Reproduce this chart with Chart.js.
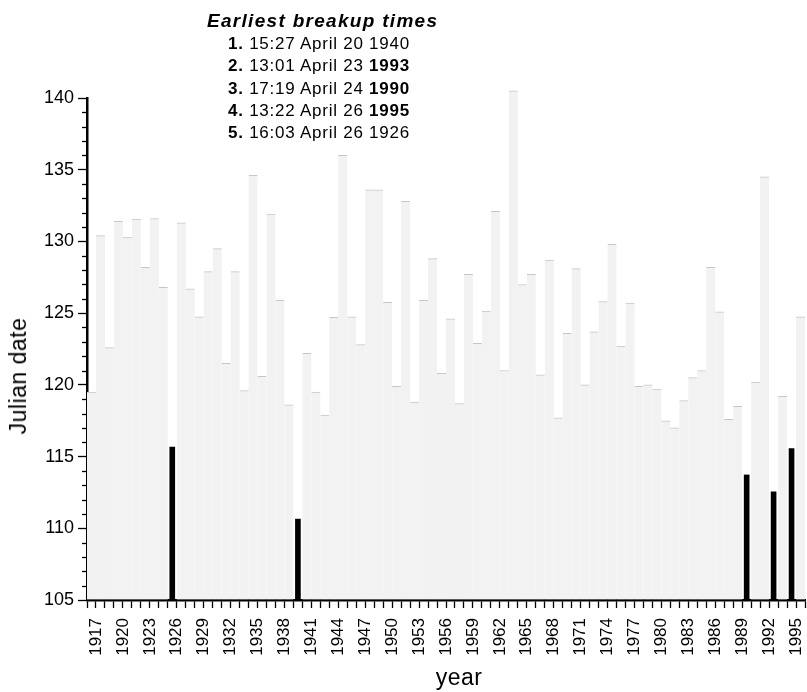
<!DOCTYPE html>
<html><head><meta charset="utf-8">
<script src="https://cdn.jsdelivr.net/npm/chart.js@4.4.1/dist/chart.umd.min.js"></script>
<style>
html,body{margin:0;padding:0;background:#fff;overflow:hidden}
#wrap{position:relative;width:807px;height:692px;font-family:"Liberation Sans",Arial,Helvetica,sans-serif;color:#000}
canvas{position:absolute;left:0;top:0}
.txt{position:absolute;white-space:nowrap}
#title{left:207px;top:10px;font-weight:bold;font-style:italic;font-size:19px;line-height:22px;letter-spacing:1.3px}
.line{left:228px;font-size:17px;line-height:22px;letter-spacing:0.75px}
#ytitle{left:18px;top:376px;font-size:23px;line-height:26px;letter-spacing:0.5px;transform:translate(-50%,-50%) rotate(-90deg)}
#xtitle{left:459px;top:677px;font-size:23px;line-height:26px;letter-spacing:0.5px;transform:translate(-50%,-50%)}
</style></head><body>
<div id="wrap"><canvas id="c" width="807" height="692"></canvas></div>
<script>
// ---- data ----
const years = [1917,1918,1919,1920,1921,1922,1923,1924,1925,1926,1927,1928,1929,1930,1931,1932,1933,1934,1935,1936,
  1937,1938,1939,1940,1941,1942,1943,1944,1945,1946,1947,1948,1949,1950,1951,1952,1953,1954,1955,1956,
  1957,1958,1959,1960,1961,1962,1963,1964,1965,1966,1967,1968,1969,1970,1971,1972,1973,1974,1975,1976,
  1977,1978,1979,1980,1981,1982,1983,1984,1985,1986,1987,1988,1989,1990,1991,1992,1993,1994,1995,1996];
const julianDate = [119.5,130.4,122.6,131.4,130.3,131.55,128.2,131.6,126.8,115.67,131.3,126.7,124.75,127.9,129.5,121.5,127.9,119.6,134.6,120.6,
  131.9,125.9,118.6,110.64,122.2,119.5,117.9,124.7,136.0,124.75,122.8,133.6,133.6,125.75,119.9,132.8,118.8,125.9,128.8,120.8,
  124.6,118.7,127.7,122.9,125.15,132.1,121.0,140.5,127.0,127.7,120.7,128.7,117.7,123.6,128.1,120.0,123.7,125.8,129.8,122.7,
  125.7,119.9,120.0,119.7,117.5,117.0,118.9,120.5,121.0,128.2,125.1,117.6,118.5,113.72,120.2,134.5,112.54,119.2,115.56,124.75];
const xTickLabels = [1917,1920,1923,1926,1929,1932,1935,1938,1941,1944,1947,1950,1953,1956,1959,1962,1965,1968,1971,1974,1977,1980,1983,1986,1989,1992,1995];
const yTicks = [105,110,115,120,125,130,135,140];
const earliestYears = [1940,1993,1990,1995,1926];
const earliestTimes = ['15:27','13:01','17:19','13:22','16:03'];
const earliestDays = ['April 20','April 23','April 24','April 26','April 26'];
const boldYears = [1993,1990,1995];
const noteTitle = 'Earliest breakup times';
const xAxisTitle = 'year';
const yAxisTitle = 'Julian date';

// ---- text ----
const wrap = document.getElementById('wrap');
function addText(id, cls, html, top){
  const d = document.createElement('div');
  if (id) d.id = id;
  d.className = 'txt ' + (cls||'');
  d.innerHTML = html;
  if (top !== undefined) d.style.top = top + 'px';
  wrap.appendChild(d);
}
addText('title', '', noteTitle);
earliestYears.forEach((y,i)=>{
  const ys = boldYears.includes(y) ? '<b>'+y+'</b>' : String(y);
  addText(null, 'line', '<b>'+(i+1)+'.</b> '+earliestTimes[i]+' '+earliestDays[i]+' '+ys, 33 + i*22.3);
});
addText('ytitle', '', yAxisTitle);
addText('xtitle', '', xAxisTitle);

const FONT = "'Liberation Sans', Arial, Helvetica, sans-serif";
const greyData = julianDate.map((v,i)=> earliestYears.includes(years[i]) ? null : v);
const blackData = julianDate.map((v,i)=> earliestYears.includes(years[i]) ? v : null);

const minorTicks = {
  id:'minorTicks',
  afterDraw(chart){
    const ys = chart.scales.y, ctx = chart.ctx, left = chart.chartArea.left;
    ctx.save(); ctx.strokeStyle='#000'; ctx.lineWidth=1.3;
    for (let v = ys.min; v <= ys.max; v++) {
      if (yTicks.includes(v)) continue;
      const p = Math.round(ys.getPixelForValue(v)) + 0.5;
      ctx.beginPath(); ctx.moveTo(left-5,p); ctx.lineTo(left,p); ctx.stroke();
    }
    ctx.restore();
  }
};

new Chart(document.getElementById('c'), {
  type:'bar',
  data:{
    labels: years.map(String),
    datasets:[
      {label:'breakup', data:greyData, base:105, backgroundColor:'#f2f2f2', borderColor:'#c6c6c6',
       borderWidth:{top:1,left:0,right:0,bottom:0}, borderSkipped:false, barPercentage:1, categoryPercentage:1,
       grouped:false, order:2, clip:{left:0,right:0,bottom:0,top:12}},
      {label:'earliest', data:blackData, base:105, backgroundColor:'#000', barThickness:5, grouped:false, order:1}
    ]
  },
  options:{
    responsive:false, animation:false, devicePixelRatio:1,
    layout:{padding:{top:98,right:2,left:0,bottom:0}},
    plugins:{legend:{display:false}, tooltip:{enabled:false}, title:{display:false}},
    scales:{
      x:{
        offset:true,
        grid:{display:true, drawOnChartArea:false, offset:true, tickLength:8, tickColor:'#000', tickWidth:1.3},
        border:{display:true, color:'#000', width:2.5},
        ticks:{autoSkip:false, maxRotation:90, minRotation:90, padding:10, labelOffset:4.5, color:'#000',
          font:{family:FONT, size:17},
          callback:(v,i)=> xTickLabels.includes(years[i]) ? String(years[i]) : ''},
        title:{display:false},
        afterFit:s=>{s.height = 92; s.paddingLeft = 0; s.paddingRight = 0;}
      },
      y:{
        min:105, max:140,
        afterBuildTicks:s=>{s.ticks = yTicks.map(v=>({value:v}));},
        grid:{display:true, drawOnChartArea:false, tickLength:9, tickColor:'#000', tickWidth:1.3},
        border:{display:true, color:'#000', width:2.5},
        ticks:{color:'#000', padding:4, font:{family:FONT, size:18}},
        title:{display:false},
        afterFit:s=>{s.width = 87;}
      }
    }
  },
  plugins:[minorTicks]
});
</script>
</body></html>
